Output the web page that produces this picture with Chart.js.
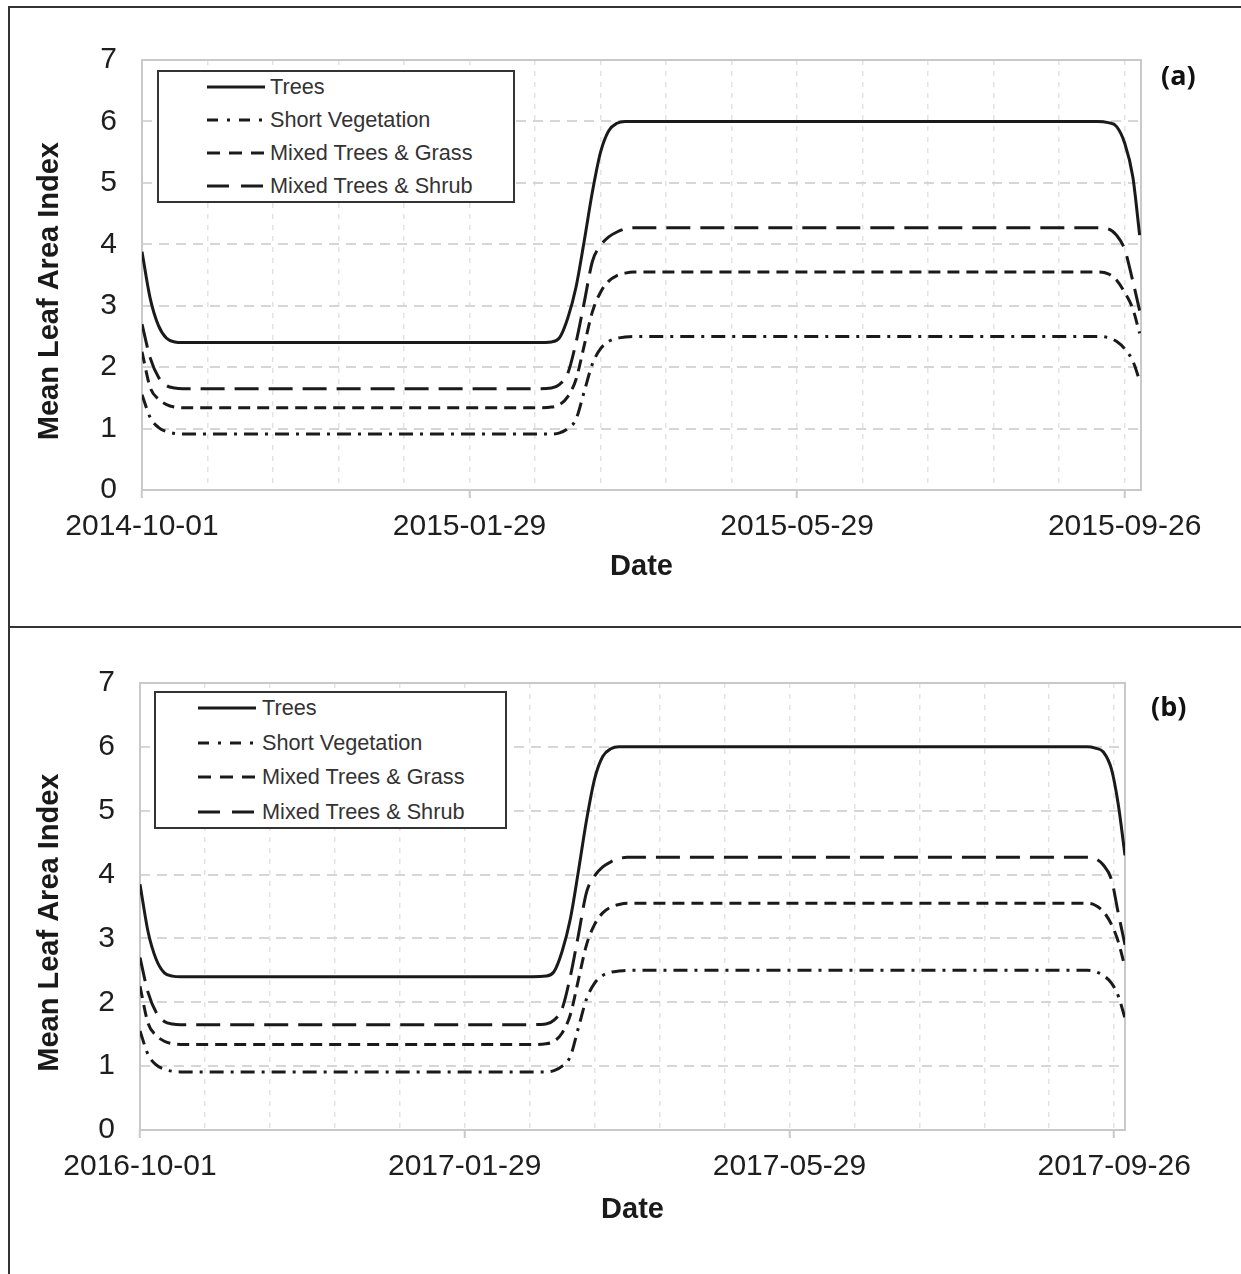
<!DOCTYPE html>
<html>
<head>
<meta charset="utf-8">
<script src="https://cdn.jsdelivr.net/npm/chart.js@4.4.1/dist/chart.umd.min.js"></script>
<style>
  body { margin: 0; background: #fff; width: 1241px; height: 1274px; position: relative; overflow: hidden;
         font-family: "Liberation Sans", Arial, sans-serif; color: #222; }
  .frame { position: absolute; left: 8px; right: 0; border-left: 2px solid #333; border-top: 2px solid #333; }
  #frameA { top: 6px; height: 620px; }
  #frameB { top: 626px; bottom: 0; }
  canvas { position: absolute; left: 10px; }
  #chartA { top: 8px; }
  #chartB { top: 628px; }
  .tag { position: absolute; font-family: "Open Sans", Lato, sans-serif; font-weight: 700; font-size: 27px; line-height: 1; color: #111; }
  .legend { position: absolute; border: 2px solid #333; background: #fff; box-sizing: border-box; }
  .row { position: absolute; height: 26px; display: flex; align-items: center; font-size: 21.7px; color: #333; white-space: nowrap; }
  .row svg { display: block; }
</style>
</head>
<body>
<div class="frame" id="frameA"></div>
<div class="frame" id="frameB"></div>
<canvas id="chartA" width="1231" height="619"></canvas>
<canvas id="chartB" width="1231" height="646"></canvas>
<div class="tag" style="left:1161px;top:61px">(a)</div>
<div class="tag" style="left:1151px;top:692px">(b)</div>
<div class="legend" id="legendA" style="left:157px;top:70px;width:358px;height:133px"></div>
<div class="legend" id="legendB" style="left:154px;top:691px;width:353px;height:138px"></div>

<script>
// Serie names
const seriesNames = ["Trees", "Short Vegetation", "Mixed Trees & Grass", "Mixed Trees & Shrub"];

// day offsets from the start date (2014-10-01 / 2016-10-01)
const daysA = [0, 3, 6, 9, 12, 15, 20, 145, 150, 153, 156, 159, 162, 165, 168, 171, 174, 177, 180, 185, 345, 350, 354, 357, 360, 363, 365.5];
const daysB = [0, 3, 6, 9, 12, 15, 20, 145, 150, 153, 156, 159, 162, 165, 168, 171, 174, 177, 180, 185, 345, 350, 353, 356, 359, 361.5, 364];

// Mean LAI, panel (a)
const treesA = [3.88, 3.12, 2.68, 2.47, 2.41, 2.40, 2.40, 2.40, 2.41, 2.48, 2.8, 3.3, 4.05, 4.85, 5.5, 5.85, 5.97, 6.0, 6.0, 6.0, 6.0, 6.0, 5.98, 5.92, 5.65, 5.1, 4.15];
const shortVegA = [1.55, 1.18, 1.02, 0.95, 0.92, 0.91, 0.91, 0.91, 0.91, 0.93, 1.0, 1.15, 1.6, 2.05, 2.3, 2.42, 2.47, 2.49, 2.5, 2.5, 2.5, 2.5, 2.48, 2.42, 2.3, 2.1, 1.78];
const grassA = [2.25, 1.67, 1.48, 1.39, 1.35, 1.34, 1.34, 1.34, 1.35, 1.39, 1.52, 1.8, 2.35, 2.9, 3.22, 3.4, 3.49, 3.53, 3.55, 3.55, 3.55, 3.55, 3.52, 3.42, 3.22, 2.95, 2.55];
const shrubA = [2.70, 2.15, 1.84, 1.70, 1.66, 1.65, 1.65, 1.65, 1.66, 1.72, 1.9, 2.4, 3.05, 3.72, 3.98, 4.12, 4.2, 4.25, 4.27, 4.27, 4.27, 4.27, 4.25, 4.15, 3.92, 3.4, 2.92];

// Mean LAI, panel (b)
const treesB = [3.85, 3.1, 2.67, 2.46, 2.41, 2.40, 2.40, 2.40, 2.41, 2.48, 2.8, 3.3, 4.05, 4.85, 5.5, 5.85, 5.97, 6.0, 6.0, 6.0, 6.0, 6.0, 5.98, 5.92, 5.65, 5.1, 4.3];
const shortVegB = [1.55, 1.18, 1.02, 0.95, 0.92, 0.91, 0.91, 0.91, 0.91, 0.93, 1.0, 1.15, 1.6, 2.05, 2.3, 2.42, 2.47, 2.49, 2.5, 2.5, 2.5, 2.5, 2.48, 2.42, 2.3, 2.1, 1.75];
const grassB = [2.25, 1.67, 1.48, 1.39, 1.35, 1.34, 1.34, 1.34, 1.35, 1.39, 1.52, 1.8, 2.35, 2.9, 3.22, 3.4, 3.49, 3.53, 3.55, 3.55, 3.55, 3.55, 3.52, 3.42, 3.22, 2.95, 2.55];
const shrubB = [2.70, 2.15, 1.84, 1.70, 1.66, 1.65, 1.65, 1.65, 1.66, 1.72, 1.9, 2.4, 3.05, 3.72, 3.98, 4.12, 4.2, 4.25, 4.27, 4.27, 4.27, 4.27, 4.25, 4.15, 3.92, 3.4, 2.9];

// x tick labels
const majorDays = [0, 120, 240, 360];
const dateLabelsA = ["2014-10-01", "2015-01-29", "2015-05-29", "2015-09-26"];
const dateLabelsB = ["2016-10-01", "2017-01-29", "2017-05-29", "2017-09-26"];
const yTicks = [0, 1, 2, 3, 4, 5, 6, 7];

const dashes = [[], [14, 7, 3, 7], [12, 7], [24, 10]];
const legendDash = ["", "11 9 3 9", "13 9", "22 12"];

Chart.defaults.font.family = "'Liberation Sans', Arial, sans-serif";
Chart.defaults.color = "#222";

const framePlugin = {
  id: "plotFrame",
  beforeDatasetsDraw(chart) {
    const a = chart.chartArea;
    const ctx = chart.ctx;
    ctx.save();
    ctx.strokeStyle = "#c9c9c9";
    ctx.lineWidth = 2;
    ctx.strokeRect(a.left, a.top, a.right - a.left, a.bottom - a.top);
    ctx.restore();
  }
};

function makeChart(id, days, values, labels, opt) {
  const datasets = values.map(function(vals, i) {
    return {
      label: seriesNames[i],
      data: days.map(function(d, j) { return { x: d, y: vals[j] }; }),
      borderColor: "#1a1a1a",
      borderWidth: 3,
      borderDash: dashes[i],
      borderCapStyle: "butt",
      pointRadius: 0,
      cubicInterpolationMode: "monotone",
      fill: false
    };
  });

  return new Chart(document.getElementById(id), {
    type: "line",
    data: { datasets: datasets },
    plugins: [framePlugin],
    options: {
      responsive: false,
      animation: false,
      layout: { padding: { left: 0, right: opt.padRight, top: opt.padTop, bottom: 0 } },
      plugins: { legend: { display: false }, tooltip: { enabled: false } },
      scales: {
        x: {
          type: "linear",
          min: 0,
          max: opt.xMax,
          afterFit: function(s) { s.height = opt.xHeight; },
          border: { display: false, dash: [5, 6] },
          grid: {
            color: "#e3e3e3",
            lineWidth: 1.5,
            tickLength: 8,
            tickBorderDash: [],
            tickWidth: 2,
            tickColor: function(c) { return majorDays.indexOf(c.tick && c.tick.value) >= 0 ? "#c9c9c9" : "rgba(0,0,0,0)"; }
          },
          ticks: {
            stepSize: 24,
            includeBounds: false,
            autoSkip: false,
            maxRotation: 0,
            minRotation: 0,
            padding: 11,
            color: "#1e1e1e",
            font: { size: 30 },
            callback: function(v) {
              const k = majorDays.indexOf(v);
              return k < 0 ? "" : labels[k];
            }
          },
          title: {
            display: true,
            text: "Date",
            color: "#1a1a1a",
            font: { size: 29, weight: "bold" },
            padding: { top: 0, bottom: opt.titlePad }
          }
        },
        y: {
          min: yTicks[0],
          max: yTicks[yTicks.length - 1],
          afterFit: function(s) { s.width = opt.yWidth; },
          border: { display: false, dash: [10, 7] },
          grid: { color: "#d6d6d6", lineWidth: 2, drawTicks: false },
          ticks: { stepSize: 1, padding: 25, color: "#1e1e1e", font: { size: 30 } },
          title: {
            display: true,
            // trailing spaces push the visible words a little lower, as in the source figure
            text: "Mean Leaf Area Index" + "\u00a0\u00a0\u00a0\u00a0",
            color: "#1a1a1a",
            font: { size: 29, weight: "bold" },
            padding: { top: 23, bottom: 0 }
          }
        }
      }
    }
  });
}

function makeLegend(id, sampleLeft, textLeft, rowTops) {
  const box = document.getElementById(id);
  seriesNames.forEach(function(name, i) {
    const row = document.createElement("div");
    row.className = "row";
    row.style.left = sampleLeft + "px";
    row.style.top = (rowTops[i] - 13) + "px";
    const dash = legendDash[i] ? ' stroke-dasharray="' + legendDash[i] + '"' : "";
    row.innerHTML = '<svg width="' + (textLeft - sampleLeft) + '" height="6"><line x1="0" y1="3" x2="58" y2="3" stroke="#1a1a1a" stroke-width="3"' + dash + '/></svg><span>' + name + '</span>';
    box.appendChild(row);
  });
}

makeChart("chartA", daysA, [treesA, shortVegA, grassA, shrubA], dateLabelsA,
  { padRight: 100, padTop: 52, xHeight: 137, yWidth: 132, xMax: 366, titlePad: 43 });
makeChart("chartB", daysB, [treesB, shortVegB, grassB, shrubB], dateLabelsB,
  { padRight: 116, padTop: 55, xHeight: 144, yWidth: 130, xMax: 364, titlePad: 47 });

makeLegend("legendA", 48, 111, [15, 48, 81, 114]);
makeLegend("legendB", 42, 106, [15, 50, 84, 119]);
</script>
</body>
</html>
